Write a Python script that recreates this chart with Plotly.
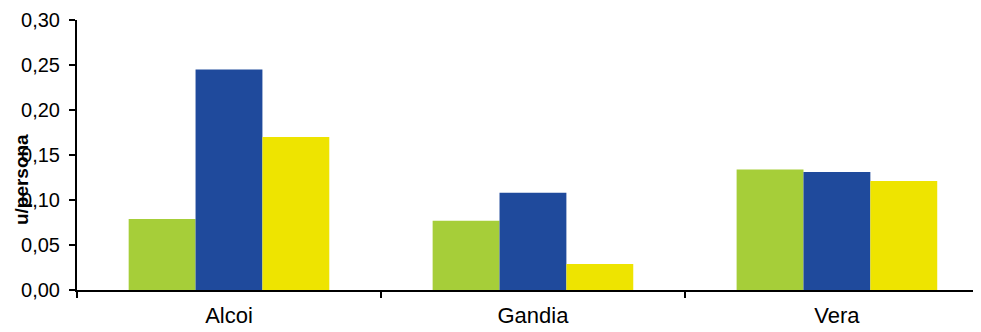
import plotly.graph_objects as go

categories = ["Alcoi", "Gandia", "Vera"]
series_names = ["Serie 1", "Serie 2", "Serie 3"]
serie1 = [0.079, 0.077, 0.134]
serie2 = [0.245, 0.108, 0.131]
serie3 = [0.170, 0.029, 0.121]
y_tickvals = [0.00, 0.05, 0.10, 0.15, 0.20, 0.25, 0.30]
y_ticktext = ["0,00", "0,05", "0,10", "0,15", "0,20", "0,25", "0,30"]
colors = ["#A6CE39", "#1F4A9C", "#EEE400"]

fig = go.Figure()
for name, vals, col in zip(series_names, [serie1, serie2, serie3], colors):
    fig.add_trace(go.Bar(x=categories, y=vals, name=name,
                         marker=dict(color=col, line=dict(width=0))))

font_family = "Liberation Sans, Arial, sans-serif"
fig.update_layout(
    width=973, height=324,
    margin=dict(l=69, r=0, t=12, b=42),
    paper_bgcolor="white", plot_bgcolor="white",
    barmode="group", bargap=0.34, bargroupgap=0,
    showlegend=False,
    font=dict(family=font_family, color="black"),
)
fig.update_xaxes(
    type="category", range=[-0.5, 2.474], automargin=False,
    showline=True, linecolor="black", linewidth=2,
    ticks="outside", tickson="boundaries", ticklen=6, tickwidth=2, tickcolor="black",
    showgrid=False, zeroline=False, ticklabelstandoff=5,
    tickfont=dict(size=22, color="black", family=font_family),
)
fig.update_yaxes(
    range=[0, 0.30], tickvals=y_tickvals, ticktext=y_ticktext, automargin=False,
    showline=True, linecolor="black", linewidth=2,
    ticks="outside", ticklen=6, tickwidth=2, tickcolor="black",
    showgrid=False, zeroline=False, ticklabelstandoff=5,
    tickfont=dict(size=20, color="black", family=font_family),
)
fig.add_annotation(
    text="<b>u/persona</b>", textangle=-90,
    xref="paper", yref="paper", x=0, y=0.407, xshift=-56,
    xanchor="center", yanchor="middle", showarrow=False,
    font=dict(size=19, color="black", family=font_family),
)
fig.write_html("out.html")
